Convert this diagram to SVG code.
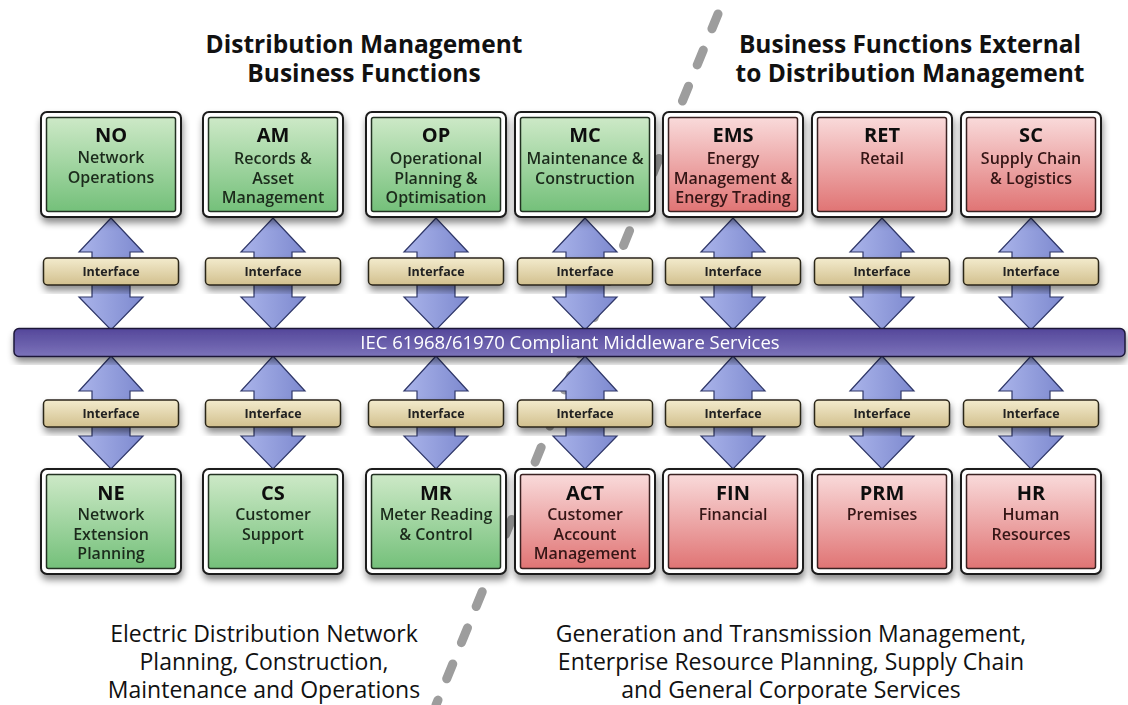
<svg xmlns="http://www.w3.org/2000/svg" width="1128" height="705" viewBox="0 0 1128 705">
<style>
.outer{fill:#ffffff;stroke:#1b1b1b;stroke-width:2}
.inG{fill:url(#gGreen);stroke:#243024;stroke-width:1.5}
.inR{fill:url(#gRed);stroke:#3a2222;stroke-width:1.5}
.ttl{font-family:"Open Sans","DejaVu Sans",sans-serif;font-weight:bold;font-size:20px;fill:#111;text-anchor:middle}
.sub{font-family:"Open Sans","DejaVu Sans",sans-serif;font-weight:600;font-size:16px;text-anchor:middle}
.subG{fill:#1c2c1c}
.subR{fill:#361616}
.ifc rect{fill:url(#gIfc);stroke:#2a2518;stroke-width:1.5}
.ifc text{font-family:"Open Sans","DejaVu Sans",sans-serif;font-weight:bold;font-size:12.5px;fill:#222;text-anchor:middle}
.arr{fill:url(#gArr);stroke:#2e3668;stroke-width:1.2}
.head{font-family:"Open Sans","DejaVu Sans",sans-serif;font-weight:bold;font-size:24.5px;fill:#111;text-anchor:middle}
.foot{font-family:"Open Sans","DejaVu Sans",sans-serif;font-size:23px;fill:#111;text-anchor:middle}
</style>
<defs>
<linearGradient id="gGreen" x1="0" y1="0" x2="0" y2="1">
<stop offset="0" stop-color="#cde9c7"/><stop offset="1" stop-color="#74c07a"/>
</linearGradient>
<linearGradient id="gRed" x1="0" y1="0" x2="0" y2="1">
<stop offset="0" stop-color="#f9dada"/><stop offset="1" stop-color="#e07474"/>
</linearGradient>
<linearGradient id="gIfc" x1="0" y1="0" x2="0" y2="1">
<stop offset="0" stop-color="#f3ebcd"/><stop offset="1" stop-color="#d2c08e"/>
</linearGradient>
<linearGradient id="gBar" x1="0" y1="0" x2="0" y2="1">
<stop offset="0" stop-color="#54479a"/><stop offset="1" stop-color="#7c73ba"/>
</linearGradient>
<linearGradient id="gArr" x1="0" y1="0" x2="1" y2="0">
<stop offset="0" stop-color="#aab4ea"/><stop offset="1" stop-color="#7d89cf"/>
</linearGradient>
<filter id="sh" x="-10%" y="-20%" width="125%" height="150%">
<feDropShadow dx="1" dy="5" stdDeviation="3.5" flood-color="#000" flood-opacity="0.45"/>
</filter>
<path id="arrA" d="M0,0 L32,34 L19,34 L19,79 L32,79 L0,112 L-32,79 L-19,79 L-19,34 L-32,34 Z"/>
<path id="arrB" d="M0,0 L32,35 L19,35 L19,80 L32,80 L0,113 L-32,80 L-19,80 L-19,35 L-32,35 Z"/>
</defs>
<rect width="1128" height="705" fill="#ffffff"/>

<line x1="718" y1="14" x2="436" y2="705" stroke="#9d9d9d" stroke-width="9" stroke-linecap="round" stroke-dasharray="16 23"/>

<g id="headings">
<text class="head" x="364" y="53">Distribution Management</text>
<text class="head" x="364" y="82">Business Functions</text>
<text class="head" x="910" y="53">Business Functions External</text>
<text class="head" x="910" y="82">to Distribution Management</text>
<text class="foot" x="264" y="642">Electric Distribution Network</text>
<text class="foot" x="264" y="670">Planning, Construction,</text>
<text class="foot" x="264" y="698">Maintenance and Operations</text>
<text class="foot" x="791" y="642">Generation and Transmission Management,</text>
<text class="foot" x="791" y="670">Enterprise Resource Planning, Supply Chain</text>
<text class="foot" x="791" y="698">and General Corporate Services</text>
</g>

<g id="connectors">
<use href="#arrA" class="arr" x="111" y="218"/>
<use href="#arrA" class="arr" x="273" y="218"/>
<use href="#arrA" class="arr" x="436" y="218"/>
<use href="#arrA" class="arr" x="585" y="218"/>
<use href="#arrA" class="arr" x="733" y="218"/>
<use href="#arrA" class="arr" x="882" y="218"/>
<use href="#arrA" class="arr" x="1031" y="218"/>
<use href="#arrB" class="arr" x="111" y="356"/>
<use href="#arrB" class="arr" x="273" y="356"/>
<use href="#arrB" class="arr" x="436" y="356"/>
<use href="#arrB" class="arr" x="585" y="356"/>
<use href="#arrB" class="arr" x="733" y="356"/>
<use href="#arrB" class="arr" x="882" y="356"/>
<use href="#arrB" class="arr" x="1031" y="356"/>
</g>

<g id="interfaces" class="ifc">
<g id="if-no-top" filter="url(#sh)"><rect x="43.5" y="258" width="135" height="27" rx="4"/><text x="111" y="276">Interface</text></g>
<g id="if-am-top" filter="url(#sh)"><rect x="205.5" y="258" width="135" height="27" rx="4"/><text x="273" y="276">Interface</text></g>
<g id="if-op-top" filter="url(#sh)"><rect x="368.5" y="258" width="135" height="27" rx="4"/><text x="436" y="276">Interface</text></g>
<g id="if-mc-top" filter="url(#sh)"><rect x="517.5" y="258" width="135" height="27" rx="4"/><text x="585" y="276">Interface</text></g>
<g id="if-ems-top" filter="url(#sh)"><rect x="665.5" y="258" width="135" height="27" rx="4"/><text x="733" y="276">Interface</text></g>
<g id="if-ret-top" filter="url(#sh)"><rect x="814.5" y="258" width="135" height="27" rx="4"/><text x="882" y="276">Interface</text></g>
<g id="if-sc-top" filter="url(#sh)"><rect x="963.5" y="258" width="135" height="27" rx="4"/><text x="1031" y="276">Interface</text></g>
<g id="if-ne-bot" filter="url(#sh)"><rect x="43.5" y="400" width="135" height="27" rx="4"/><text x="111" y="418">Interface</text></g>
<g id="if-cs-bot" filter="url(#sh)"><rect x="205.5" y="400" width="135" height="27" rx="4"/><text x="273" y="418">Interface</text></g>
<g id="if-mr-bot" filter="url(#sh)"><rect x="368.5" y="400" width="135" height="27" rx="4"/><text x="436" y="418">Interface</text></g>
<g id="if-act-bot" filter="url(#sh)"><rect x="517.5" y="400" width="135" height="27" rx="4"/><text x="585" y="418">Interface</text></g>
<g id="if-fin-bot" filter="url(#sh)"><rect x="665.5" y="400" width="135" height="27" rx="4"/><text x="733" y="418">Interface</text></g>
<g id="if-prm-bot" filter="url(#sh)"><rect x="814.5" y="400" width="135" height="27" rx="4"/><text x="882" y="418">Interface</text></g>
<g id="if-hr-bot" filter="url(#sh)"><rect x="963.5" y="400" width="135" height="27" rx="4"/><text x="1031" y="418">Interface</text></g>
</g>

<g id="middleware" filter="url(#sh)">
<rect x="14" y="328.5" width="1111" height="28" rx="5" fill="url(#gBar)" stroke="#1c1838" stroke-width="1.5"/>
<text x="570" y="349" font-family="'Open Sans','DejaVu Sans',sans-serif" font-size="18.5px" fill="#ffffff" text-anchor="middle">IEC 61968/61970 Compliant Middleware Services</text>
</g>

<g id="node-NO" filter="url(#sh)">
<rect class="outer" x="41" y="112" width="140" height="105" rx="6"/>
<rect class="inG" x="46.5" y="117.5" width="129" height="94" rx="2"/>
<text class="ttl" x="111" y="142">NO</text>
<text class="sub subG" x="111" y="163">Network</text>
<text class="sub subG" x="111" y="182.5">Operations</text>
</g>
<g id="node-AM" filter="url(#sh)">
<rect class="outer" x="203" y="112" width="140" height="105" rx="6"/>
<rect class="inG" x="208.5" y="117.5" width="129" height="94" rx="2"/>
<text class="ttl" x="273" y="142">AM</text>
<text class="sub subG" x="273" y="164">Records &amp;</text>
<text class="sub subG" x="273" y="183.5">Asset</text>
<text class="sub subG" x="273" y="203">Management</text>
</g>
<g id="node-OP" filter="url(#sh)">
<rect class="outer" x="366" y="112" width="140" height="105" rx="6"/>
<rect class="inG" x="371.5" y="117.5" width="129" height="94" rx="2"/>
<text class="ttl" x="436" y="142">OP</text>
<text class="sub subG" x="436" y="164">Operational</text>
<text class="sub subG" x="436" y="183.5">Planning &amp;</text>
<text class="sub subG" x="436" y="203">Optimisation</text>
</g>
<g id="node-MC" filter="url(#sh)">
<rect class="outer" x="515" y="112" width="140" height="105" rx="6"/>
<rect class="inG" x="520.5" y="117.5" width="129" height="94" rx="2"/>
<text class="ttl" x="585" y="142">MC</text>
<text class="sub subG" x="585" y="164">Maintenance &amp;</text>
<text class="sub subG" x="585" y="183.5">Construction</text>
</g>
<g id="node-EMS" filter="url(#sh)">
<rect class="outer" x="663" y="112" width="140" height="105" rx="6"/>
<rect class="inR" x="668.5" y="117.5" width="129" height="94" rx="2"/>
<text class="ttl" x="733" y="142">EMS</text>
<text class="sub subR" x="733" y="164">Energy</text>
<text class="sub subR" x="733" y="183.5">Management &amp;</text>
<text class="sub subR" x="733" y="203">Energy Trading</text>
</g>
<g id="node-RET" filter="url(#sh)">
<rect class="outer" x="812" y="112" width="140" height="105" rx="6"/>
<rect class="inR" x="817.5" y="117.5" width="129" height="94" rx="2"/>
<text class="ttl" x="882" y="142">RET</text>
<text class="sub subR" x="882" y="164">Retail</text>
</g>
<g id="node-SC" filter="url(#sh)">
<rect class="outer" x="961" y="112" width="140" height="105" rx="6"/>
<rect class="inR" x="966.5" y="117.5" width="129" height="94" rx="2"/>
<text class="ttl" x="1031" y="142">SC</text>
<text class="sub subR" x="1031" y="164">Supply Chain</text>
<text class="sub subR" x="1031" y="183.5">&amp; Logistics</text>
</g>

<g id="node-NE" filter="url(#sh)">
<rect class="outer" x="41" y="469" width="140" height="105" rx="6"/>
<rect class="inG" x="46.5" y="474.5" width="129" height="94" rx="2"/>
<text class="ttl" x="111" y="500">NE</text>
<text class="sub subG" x="111" y="520">Network</text>
<text class="sub subG" x="111" y="539.5">Extension</text>
<text class="sub subG" x="111" y="559">Planning</text>
</g>
<g id="node-CS" filter="url(#sh)">
<rect class="outer" x="203" y="469" width="140" height="105" rx="6"/>
<rect class="inG" x="208.5" y="474.5" width="129" height="94" rx="2"/>
<text class="ttl" x="273" y="500">CS</text>
<text class="sub subG" x="273" y="520">Customer</text>
<text class="sub subG" x="273" y="539.5">Support</text>
</g>
<g id="node-MR" filter="url(#sh)">
<rect class="outer" x="366" y="469" width="140" height="105" rx="6"/>
<rect class="inG" x="371.5" y="474.5" width="129" height="94" rx="2"/>
<text class="ttl" x="436" y="500">MR</text>
<text class="sub subG" x="436" y="520">Meter Reading</text>
<text class="sub subG" x="436" y="539.5">&amp; Control</text>
</g>
<g id="node-ACT" filter="url(#sh)">
<rect class="outer" x="515" y="469" width="140" height="105" rx="6"/>
<rect class="inR" x="520.5" y="474.5" width="129" height="94" rx="2"/>
<text class="ttl" x="585" y="500">ACT</text>
<text class="sub subR" x="585" y="520">Customer</text>
<text class="sub subR" x="585" y="539.5">Account</text>
<text class="sub subR" x="585" y="559">Management</text>
</g>
<g id="node-FIN" filter="url(#sh)">
<rect class="outer" x="663" y="469" width="140" height="105" rx="6"/>
<rect class="inR" x="668.5" y="474.5" width="129" height="94" rx="2"/>
<text class="ttl" x="733" y="500">FIN</text>
<text class="sub subR" x="733" y="520">Financial</text>
</g>
<g id="node-PRM" filter="url(#sh)">
<rect class="outer" x="812" y="469" width="140" height="105" rx="6"/>
<rect class="inR" x="817.5" y="474.5" width="129" height="94" rx="2"/>
<text class="ttl" x="882" y="500">PRM</text>
<text class="sub subR" x="882" y="520">Premises</text>
</g>
<g id="node-HR" filter="url(#sh)">
<rect class="outer" x="961" y="469" width="140" height="105" rx="6"/>
<rect class="inR" x="966.5" y="474.5" width="129" height="94" rx="2"/>
<text class="ttl" x="1031" y="500">HR</text>
<text class="sub subR" x="1031" y="520">Human</text>
<text class="sub subR" x="1031" y="539.5">Resources</text>
</g>
</svg>
